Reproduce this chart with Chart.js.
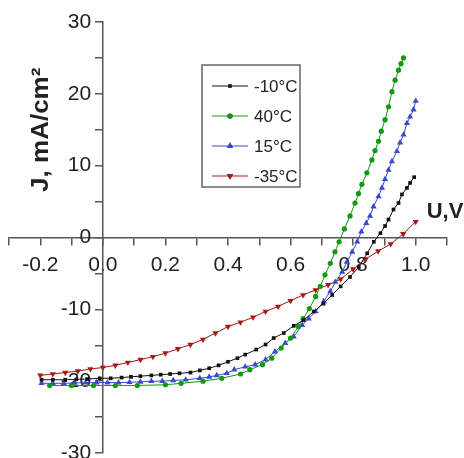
<!DOCTYPE html>
<html>
<head>
<meta charset="utf-8">
<script src="https://cdn.jsdelivr.net/npm/chart.js@4/dist/chart.umd.min.js"></script>
<style>
  body { margin: 0; background: #fff; }
  #wrap { width: 464px; height: 458px; }
</style>
</head>
<body>
<div id="wrap"><canvas id="ivChart" width="464" height="458"></canvas></div>
<script>
// tick labels
const xTickLabels = ['-0.2', '0.0', '0.2', '0.4', '0.6', '0.8', '1.0'];
const yTickLabels = ['-30', '-20', '-10', '0', '10', '20', '30'];

// -10 C
const uM10 = [-0.196, -0.16, -0.12, -0.085, -0.05, -0.01, 0.025, 0.06, 0.09, 0.12, 0.155, 0.185, 0.215, 0.245, 0.28, 0.31, 0.34, 0.37, 0.40, 0.43, 0.455, 0.49, 0.52, 0.546, 0.578, 0.61, 0.642, 0.674, 0.705, 0.733, 0.76, 0.79, 0.818, 0.845, 0.866, 0.887, 0.902, 0.913, 0.929, 0.945, 0.956, 0.972, 0.982, 0.995];
const jM10 = [-19.8, -19.8, -19.8, -19.75, -19.7, -19.6, -19.6, -19.5, -19.4, -19.3, -19.2, -19.1, -19.0, -18.9, -18.8, -18.5, -18.2, -17.8, -17.3, -16.8, -16.3, -15.6, -14.9, -14.0, -13.3, -12.3, -11.5, -10.3, -9.2, -8.0, -6.8, -5.5, -4.1, -2.2, -0.6, 0.6, 1.6, 2.5, 3.9, 4.8, 6.0, 6.9, 7.6, 8.4];

// 40 C
const u40 = [-0.17, -0.10, -0.03, 0.04, 0.11, 0.20, 0.25, 0.32, 0.38, 0.44, 0.47, 0.51, 0.54, 0.57, 0.60, 0.625, 0.64, 0.66, 0.68, 0.695, 0.71, 0.727, 0.742, 0.755, 0.772, 0.79, 0.806, 0.817, 0.828, 0.844, 0.86, 0.87, 0.881, 0.89, 0.902, 0.913, 0.924, 0.934, 0.945, 0.953, 0.961];
const j40 = [-20.6, -20.6, -20.6, -20.6, -20.6, -20.5, -20.3, -20.0, -19.6, -19.0, -18.4, -17.7, -16.8, -15.4, -14.0, -12.4, -11.3, -9.9, -8.2, -6.8, -5.2, -3.6, -2.0, -0.6, 1.2, 3.0, 4.8, 6.1, 7.4, 9.0, 10.8, 12.1, 13.4, 14.8, 16.4, 18.2, 20.3, 21.9, 23.3, 24.2, 25.0];

// 15 C
const u15 = [-0.196, -0.16, -0.125, -0.09, -0.055, -0.02, 0.015, 0.05, 0.085, 0.12, 0.155, 0.19, 0.225, 0.265, 0.31, 0.34, 0.364, 0.396, 0.42, 0.455, 0.487, 0.52, 0.55, 0.583, 0.61, 0.637, 0.658, 0.68, 0.706, 0.727, 0.743, 0.765, 0.78, 0.797, 0.813, 0.826, 0.842, 0.854, 0.865, 0.881, 0.892, 0.902, 0.913, 0.924, 0.94, 0.95, 0.961, 0.972, 0.982, 0.993, 1.0];
const j15 = [-20.3, -20.3, -20.3, -20.25, -20.2, -20.2, -20.2, -20.2, -20.15, -20.1, -20.0, -20.0, -19.9, -19.8, -19.6, -19.4, -19.2, -18.9, -18.4, -18.0, -17.7, -17.0, -15.9, -14.7, -13.8, -12.2, -11.3, -10.3, -8.9, -7.5, -6.2, -4.8, -3.4, -2.0, -0.6, 0.8, 2.0, 3.0, 4.3, 5.7, 6.9, 8.1, 9.4, 10.6, 12.0, 13.2, 14.3, 15.9, 16.8, 17.8, 19.0];

// -35 C
const uM35 = [-0.20, -0.16, -0.12, -0.08, -0.04, 0.00, 0.04, 0.08, 0.12, 0.16, 0.20, 0.24, 0.28, 0.32, 0.36, 0.40, 0.44, 0.48, 0.52, 0.56, 0.60, 0.64, 0.68, 0.72, 0.76, 0.80, 0.84, 0.88, 0.92, 0.96, 1.00];
const jM35 = [-19.2, -19.0, -18.8, -18.6, -18.3, -18.1, -17.8, -17.4, -17.0, -16.6, -16.1, -15.5, -14.9, -14.2, -13.3, -12.4, -11.8, -11.1, -10.3, -9.6, -8.8, -8.0, -7.3, -6.6, -5.8, -4.4, -3.0, -1.9, -0.9, 0.5, 2.2];

const labels = ['-10°C', '40°C', '15°C', '-35°C'];
const colors = ['#111111', '#109a10', '#3a48d0', '#a81818'];

function pts(u, j) {
    return u.map((v, i) => ({ x: v, y: j[i] }));
}

function series(i, u, j, style, rot, r) {
    return {
        label: labels[i],
        data: pts(u, j),
        showLine: true,
        borderColor: colors[i],
        backgroundColor: colors[i],
        borderWidth: 1,
        pointStyle: style,
        rotation: rot,
        pointRadius: r,
        pointBorderWidth: 0,
        tension: 0
    };
}

const datasets = [
    series(0, uM10, jM10, 'rect', 0, 2.6),
    series(1, u40, j40, 'circle', 0, 2.6),
    series(2, u15, j15, 'triangle', 0, 3.6),
    series(3, uM35, jM35, 'triangle', 180, 3.6)
];

// legend box + axis titles
const decor = {
    id: 'decor',
    afterDatasetsDraw(chart) {
        const { ctx, chartArea, scales: { x, y } } = chart;
        ctx.save();

        // legend box
        const bx = chartArea.left + 193, by = chartArea.top + 43;
        ctx.strokeStyle = '#666';
        ctx.lineWidth = 1.5;
        ctx.fillStyle = '#fff';
        ctx.fillRect(bx, by, 98, 122);
        ctx.strokeRect(bx, by, 98, 122);
        ctx.font = '17px "Liberation Sans", Arial, sans-serif';
        ctx.textBaseline = 'middle';
        chart.data.datasets.forEach((ds, i) => {
            const ry = by + 21 + i * 30;
            ctx.strokeStyle = ds.borderColor;
            ctx.lineWidth = 1;
            ctx.beginPath();
            ctx.moveTo(bx + 10, ry);
            ctx.lineTo(bx + 46, ry);
            ctx.stroke();
            Chart.helpers.drawPoint(ctx, {
                pointStyle: ds.pointStyle,
                rotation: ds.rotation,
                radius: ds.pointRadius,
                borderWidth: 0
            }, bx + 28, ry);
            ctx.fillStyle = ds.backgroundColor;
            ctx.fill();
            ctx.fillStyle = '#222';
            ctx.textAlign = 'left';
            ctx.fillText(ds.label, bx + 52, ry + 1);
        });

        // y title
        ctx.fillStyle = '#222';
        ctx.font = 'bold 26px "Liberation Sans", Arial, sans-serif';
        ctx.translate(chartArea.left + 32, y.getPixelForValue(15));
        ctx.scale(0.92, 1);
        ctx.rotate(-Math.PI / 2);
        ctx.textAlign = 'center';
        ctx.textBaseline = 'middle';
        ctx.fillText('J, mA/cm²', 0, 0);
        ctx.restore();

        // x title
        ctx.save();
        ctx.fillStyle = '#222';
        ctx.font = 'bold 22px "Liberation Sans", Arial, sans-serif';
        ctx.textAlign = 'left';
        ctx.textBaseline = 'alphabetic';
        ctx.fillText('U,V', x.getPixelForValue(1.0) + 11, y.getPixelForValue(0) - 20);
        ctx.restore();
    }
};

Chart.defaults.font.family = '"Liberation Sans", Arial, sans-serif';
Chart.defaults.color = '#222';

new Chart(document.getElementById('ivChart'), {
    type: 'scatter',
    data: { datasets: datasets },
    options: {
        responsive: false,
        animation: false,
        layout: { padding: { left: 9, right: 17, top: 22, bottom: 5 } },
        plugins: { legend: { display: false }, tooltip: { enabled: false } },
        scales: {
            x: {
                type: 'linear',
                position: { y: 0 },
                min: -0.3,
                max: 1.1,
                border: { color: '#555', width: 1.5 },
                grid: { drawOnChartArea: false, drawTicks: true, tickLength: 7, color: '#555', lineWidth: 1.5 },
                afterFit: (s) => { s.paddingLeft = 0; s.paddingRight = 0; },
                ticks: {
                    stepSize: 0.1,
                    autoSkip: false,
                    maxRotation: 0,
                    padding: 8,
                    font: { size: 21 },
                    callback: (v) => {
                        const s = (Math.round(v * 10) / 10).toFixed(1);
                        return xTickLabels.includes(s) ? s : '';
                    }
                }
            },
            y: {
                type: 'linear',
                position: { x: 0 },
                min: -30,
                max: 30,
                border: { color: '#555', width: 1.5 },
                grid: { drawOnChartArea: false, drawTicks: true, tickLength: 7, color: '#555', lineWidth: 1.5 },
                afterFit: (s) => { s.paddingTop = 0; s.paddingBottom = 0; },
                ticks: {
                    stepSize: 5,
                    autoSkip: false,
                    font: { size: 21 },
                    // labels sit against the axis here, so pad them with spaces
                    callback: (v) => {
                        const s = String(v);
                        return yTickLabels.includes(s) ? s + '  ' : '';
                    }
                }
            }
        }
    },
    plugins: [decor]
});
</script>
</body>
</html>
